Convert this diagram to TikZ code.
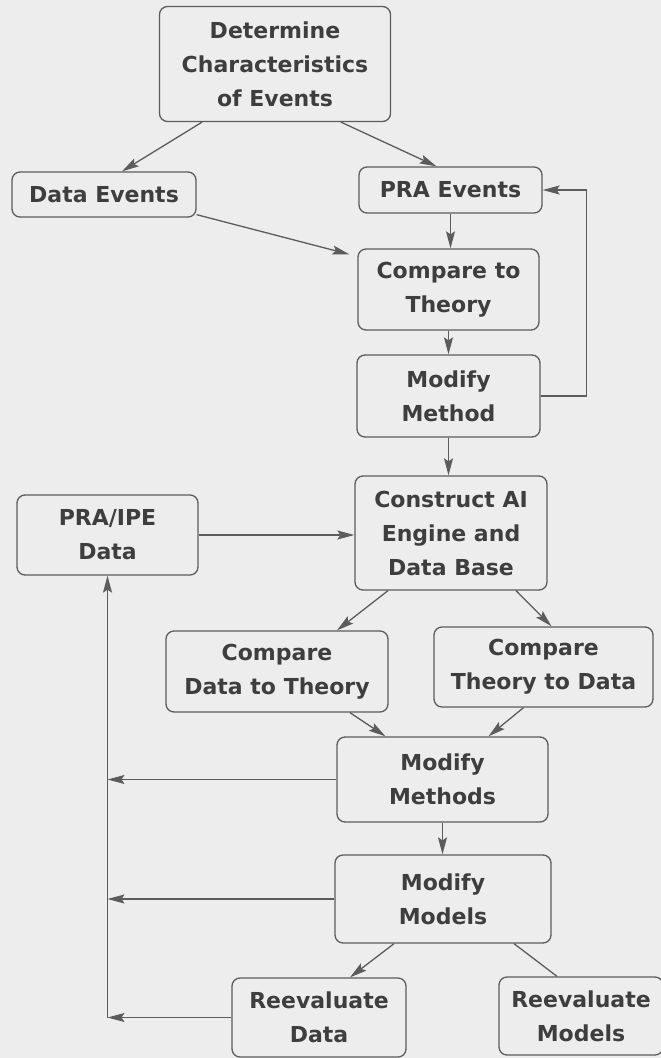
\documentclass[tikz,border=0pt]{standalone}
\usepackage{fontspec}
\setmainfont{DejaVu Sans}
\usepackage{tikz}
\usetikzlibrary{arrows,arrows.meta,positioning}
\definecolor{eBack}{HTML}{EDEDED}
\definecolor{eLine}{HTML}{5C5C5C}
\definecolor{eText}{HTML}{3E3E3E}
\tikzset{bx/.style={draw=eLine, line width=1.3pt, rounded corners=8pt,
  align=center, inner sep=0pt, text=eText,
  font=\fontsize{22}{34}\selectfont\bfseries}}
\tikzset{k/.style={draw, line width=1.3pt, eLine, -{Stealth[length=17pt,width=9pt,inset=3pt]}}}
\tikzset{kk/.style={draw, line width=1.3pt, eLine}}

\begin{document}
\begin{tikzpicture}[x=1pt, y=-1pt]
            \fill [eBack] (0,0) rectangle (661,1058);
            \useasboundingbox (0,0) rectangle (661,1058);
            %%
            \node (det) at (275,64) [bx, minimum width=231pt, minimum height=115pt] {Determine\\Characteristics\\of Events};
            \node (dev) at (104,194.5) [bx, minimum width=184pt, minimum height=45pt] {Data Events};
            \node (pev) at (450.5,190) [bx, minimum width=183pt, minimum height=46pt] {PRA Events};
            \node (cmp) at (448.5,289.5) [bx, minimum width=181pt, minimum height=81pt] {Compare to\\Theory};
            \node (mod) at (448.5,396) [bx, minimum width=183pt, minimum height=82pt] {Modify\\Method};
            \node (ai) at (451,533) [bx, minimum width=192pt, minimum height=114pt] {Construct AI\\Engine and\\Data Base};
            \node (ipe) at (107.5,535) [bx, minimum width=181pt, minimum height=80pt] {PRA/IPE\\Data};
            \node (cdt) at (277,671.5) [bx, minimum width=222pt, minimum height=81pt] {Compare\\Data to Theory};
            \node (ctd) at (543.5,667) [bx, minimum width=219pt, minimum height=80pt] {Compare\\Theory to Data};
            \node (mms) at (442.5,779.5) [bx, minimum width=211pt, minimum height=85pt] {Modify\\Methods};
            \node (mmo) at (443,899) [bx, minimum width=216pt, minimum height=88pt] {Modify\\Models};
            \node (rda) at (319,1017.5) [bx, minimum width=174pt, minimum height=79pt] {Reevaluate\\Data};
            \node (rmo) at (581,1016) [bx, minimum width=164pt, minimum height=78pt] {Reevaluate\\Models};
            %%
            \draw [k] ([xshift=-73pt]det.south) to ([xshift=18pt]dev.north);
            \draw [k] ([xshift=66pt]det.south) to ([xshift=-14pt]pev.north);
            \draw [k] ([yshift=3pt]dev.south east) to ([xshift=-8pt,yshift=-6pt]cmp.north west);
            \draw [k] (pev.south) to (pev.south |- cmp.north);
            \draw [k] (cmp.south) to (cmp.south |- mod.north);
            \draw [k] (mod.east) -- ++(46,0) |- (pev.east);
            \draw [k] (mod.south) to (mod.south |- ai.north);
            \draw [k] (ipe.east) to (ipe.east -| ai.west);
            %%
            \draw [k] ([xshift=-63pt]ai.south) to ([xshift=60pt]cdt.north);
            \draw [k] ([xshift=65pt]ai.south) to ([xshift=8pt]ctd.north);
            \draw [k] ([xshift=73pt]cdt.south) to ([xshift=-57pt]mms.north);
            \draw [k] ([xshift=-20pt]ctd.south) to ([xshift=46pt]mms.north);
            \draw [k] (mms.south) to (mms.south |- mmo.north);
            \draw [k] ([xshift=-49pt]mmo.south) to ([xshift=31pt]rda.north);
            \draw [kk] ([xshift=71pt]mmo.south) to ([xshift=-24pt]rmo.north);
            %%
            \draw [k] (mms.west) to (mms.west -| ipe.south);
            \draw [k] (mmo.west) to (mmo.west -| ipe.south);
            \draw [k] (rda.west) to (rda.west -| ipe.south);
            \draw [k] (rda.west -| ipe.south) to (ipe.south);
\end{tikzpicture}
\end{document}
